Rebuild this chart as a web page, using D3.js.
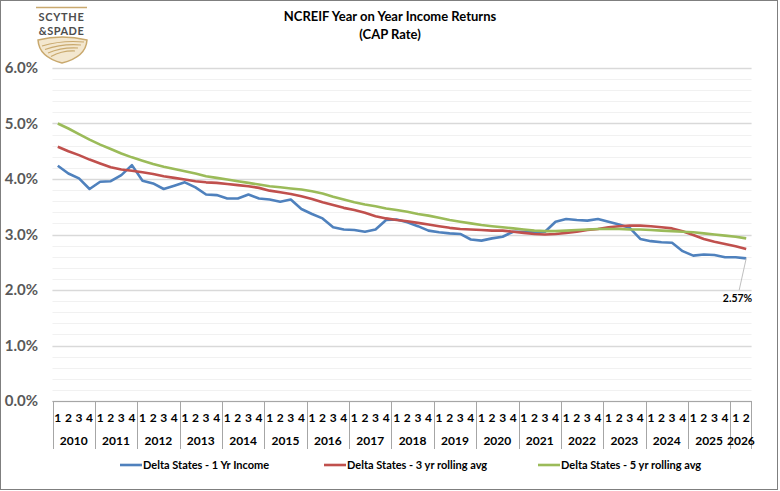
<!DOCTYPE html>
<html>
<head>
<meta charset="utf-8">
<script src="https://cdn.jsdelivr.net/npm/d3@7"></script>
<style>
  body { margin: 0; background: #fff; }
  text { font-family: Lato, "Open Sans", sans-serif; font-weight: 700; }
</style>
</head>
<body>
<script>
var W = 780, H = 491;

var years = ["2010", "2011", "2012", "2013", "2014", "2015", "2016", "2017",
    "2018", "2019", "2020", "2021", "2022", "2023", "2024", "2025", "2026"];
var quartersPerYear = [4, 4, 4, 4, 4, 4, 4, 4, 4, 4, 4, 4, 4, 4, 4, 4, 2];

var oneYr = [
    4.24, 4.10, 4.01, 3.82, 3.95, 3.96, 4.07, 4.25, 3.97, 3.92, 3.82, 3.88,
    3.94, 3.85, 3.72, 3.71, 3.65, 3.65, 3.72, 3.65, 3.63, 3.59, 3.63, 3.46,
    3.37, 3.29, 3.13, 3.09, 3.08, 3.05, 3.09, 3.26, 3.27, 3.22, 3.15, 3.07,
    3.04, 3.02, 3.01, 2.91, 2.89, 2.93, 2.96, 3.05, 3.05, 3.04, 3.05, 3.23,
    3.28, 3.26, 3.25, 3.28, 3.23, 3.18, 3.12, 2.92, 2.88, 2.86, 2.85, 2.70,
    2.62, 2.64, 2.63, 2.59, 2.59, 2.57];

var threeYr = [
    4.58, 4.50, 4.43, 4.35, 4.28, 4.21, 4.17, 4.15, 4.12, 4.09, 4.05, 4.02,
    3.99, 3.96, 3.94, 3.93, 3.91, 3.89, 3.87, 3.84, 3.79, 3.76, 3.73, 3.69,
    3.64, 3.58, 3.53, 3.48, 3.44, 3.39, 3.33, 3.29, 3.26, 3.24, 3.21, 3.18,
    3.15, 3.12, 3.10, 3.09, 3.08, 3.07, 3.07, 3.05, 3.03, 3.01, 3.00, 3.01,
    3.03, 3.05, 3.08, 3.10, 3.13, 3.15, 3.16, 3.16, 3.15, 3.13, 3.11, 3.06,
    2.99, 2.92, 2.87, 2.83, 2.79, 2.74];

var fiveYr = [
    5.00, 4.91, 4.81, 4.71, 4.62, 4.54, 4.46, 4.39, 4.33, 4.27, 4.22, 4.18,
    4.14, 4.10, 4.05, 4.02, 3.99, 3.96, 3.93, 3.90, 3.87, 3.85, 3.83, 3.81,
    3.78, 3.74, 3.68, 3.63, 3.58, 3.54, 3.51, 3.47, 3.44, 3.41, 3.37, 3.34,
    3.30, 3.26, 3.23, 3.20, 3.17, 3.15, 3.13, 3.11, 3.09, 3.07, 3.06, 3.06,
    3.07, 3.08, 3.09, 3.10, 3.10, 3.10, 3.09, 3.09, 3.08, 3.07, 3.06, 3.05,
    3.04, 3.02, 3.00, 2.98, 2.96, 2.93];

var seriesNames = ["Delta States - 1 Yr Income", "Delta States - 3 yr rolling avg",
    "Delta States - 5 yr rolling avg"];
var colors = ["#4f81bd", "#c0504d", "#9bbb59"];

// quarter categories, e.g. "2010-1"
var categories = [];
years.forEach(function(y, i) {
    for (var q = 1; q <= quartersPerYear[i]; q++) categories.push(y + "-" + q);
});

var svg = d3.select("body").append("svg")
    .attr("width", W)
    .attr("height", H);

svg.append("rect")
    .attr("x", 0.5).attr("y", 0.5)
    .attr("width", W - 3).attr("height", H - 2)
    .attr("fill", "#fff")
    .attr("stroke", "#7f7f7f");

var x = d3.scaleBand()
    .domain(categories)
    .range([52.5, 751.5]);

var y = d3.scaleLinear()
    .domain([0, 6])
    .range([401, 68]);

// gridlines
var grid = svg.append("g");
grid.selectAll(".minor")
    .data(y.ticks(30))
    .enter().append("line")
    .attr("x1", x.range()[0]).attr("x2", x.range()[1])
    .attr("y1", function(d) { return Math.round(y(d)) + 0.5; })
    .attr("y2", function(d) { return Math.round(y(d)) + 0.5; })
    .attr("stroke", "#f1f1f1");
grid.selectAll(".major")
    .data(y.ticks(6))
    .enter().append("line")
    .attr("x1", x.range()[0]).attr("x2", x.range()[1])
    .attr("y1", function(d) { return Math.round(y(d)) + 0.5; })
    .attr("y2", function(d) { return Math.round(y(d)) + 0.5; })
    .attr("stroke", "#d9d9d9")
    .attr("stroke-width", 1.3);

// y labels
svg.append("g").selectAll("text")
    .data(y.ticks(6))
    .enter().append("text")
    .attr("x", 38)
    .attr("y", function(d) { return y(d); })
    .attr("dy", "0.36em")
    .attr("text-anchor", "end")
    .attr("fill", "#595959")
    .style("font-size", "15px")
    .text(function(d) { return d3.format(".1f")(d) + "%"; });

// x axis (excel style two level)
var xa = svg.append("g");
xa.append("line")
    .attr("x1", x.range()[0]).attr("x2", x.range()[1])
    .attr("y1", 401.5).attr("y2", 401.5)
    .attr("stroke", "#a6a6a6");

xa.selectAll(".q")
    .data(categories)
    .enter().append("text")
    .attr("x", function(d) { return x(d) + x.bandwidth() / 2; })
    .attr("y", 418)
    .attr("dy", "0.35em")
    .attr("text-anchor", "middle")
    .attr("fill", "#000")
    .style("font-size", "12px")
    .text(function(d) { return d.split("-")[1]; });

var yearStart = [];
var acc = 0;
years.forEach(function(yr, i) {
    yearStart.push({year: yr, first: categories[acc], n: quartersPerYear[i]});
    acc += quartersPerYear[i];
});

xa.selectAll(".sep")
    .data(yearStart)
    .enter().append("line")
    .attr("x1", function(d) { return Math.round(x(d.first)) + 0.5; })
    .attr("x2", function(d) { return Math.round(x(d.first)) + 0.5; })
    .attr("y1", 401).attr("y2", 449)
    .attr("stroke", "#a6a6a6");
xa.append("line")
    .attr("x1", x.range()[1]).attr("x2", x.range()[1])
    .attr("y1", 401).attr("y2", 449)
    .attr("stroke", "#a6a6a6");

xa.selectAll(".yr")
    .data(yearStart)
    .enter().append("text")
    .attr("x", function(d) { return x(d.first) + x.bandwidth() * d.n / 2; })
    .attr("y", 441)
    .attr("dy", "0.35em")
    .attr("text-anchor", "middle")
    .attr("fill", "#000")
    .style("font-size", "12px")
    .text(function(d) { return d.year; });

// lines
var line = d3.line()
    .x(function(d, i) { return x(categories[i]) + x.bandwidth() / 2; })
    .y(function(d) { return y(d); });

[oneYr, threeYr, fiveYr].forEach(function(s, k) {
    svg.append("path")
        .datum(s)
        .attr("fill", "none")
        .attr("stroke", colors[k])
        .attr("stroke-width", 2.6)
        .attr("stroke-linejoin", "round")
        .attr("d", line);
});

// end label
var last = oneYr.length - 1;
var lx = x(categories[last]) + x.bandwidth() / 2;
svg.append("line")
    .attr("x1", lx).attr("y1", y(oneYr[last]))
    .attr("x2", lx - 7).attr("y2", 290)
    .attr("stroke", "#bfbfbf");
svg.append("text")
    .attr("x", lx + 6)
    .attr("y", 298)
    .attr("dy", "0.35em")
    .attr("text-anchor", "end")
    .attr("fill", "#000")
    .style("font-size", "10.5px")
    .text(d3.format(".2f")(oneYr[last]) + "%");

// title
svg.append("text")
    .attr("x", 390).attr("y", 21)
    .attr("text-anchor", "middle")
    .style("font-size", "13px")
    .text("NCREIF Year on Year Income Returns");
svg.append("text")
    .attr("x", 390).attr("y", 39)
    .attr("text-anchor", "middle")
    .style("font-size", "13px")
    .text("(CAP Rate)");

// legend
var legendX = [120, 324, 538];
var legend = svg.append("g").selectAll("g")
    .data(seriesNames)
    .enter().append("g")
    .attr("transform", function(d, i) { return "translate(" + legendX[i] + ",465)"; });
legend.append("line")
    .attr("x1", 0).attr("x2", 22)
    .attr("stroke", function(d, i) { return colors[i]; })
    .attr("stroke-width", 2.6);
legend.append("text")
    .attr("x", 23)
    .attr("dy", "0.35em")
    .style("font-size", "11px")
    .text(function(d) { return d; });

// logo
var logo = svg.append("g");
logo.append("line")
    .attr("x1", 36).attr("x2", 87).attr("y1", 7.5).attr("y2", 7.5)
    .attr("stroke", "#c9a96e").attr("stroke-width", 1.5);
logo.append("text")
    .attr("x", 61.5).attr("y", 21)
    .attr("text-anchor", "middle")
    .attr("fill", "#4d4d4d")
    .attr("letter-spacing", "0.7")
    .style("font-size", "11px")
    .text("SCYTHE");
logo.append("text")
    .attr("x", 61.5).attr("y", 34.5)
    .attr("text-anchor", "middle")
    .attr("fill", "#4d4d4d")
    .attr("letter-spacing", "0.5")
    .style("font-size", "11px")
    .text("&SPADE");
logo.append("path")
    .attr("d", "M38,40 Q62,34 87,40 Q86,57 62,63 Q39,57 38,40 Z")
    .attr("fill", "#f3e7cf")
    .attr("stroke", "#c9a96e")
    .attr("stroke-width", 1.5);
[0, 1, 2, 3].forEach(function(i) {
    logo.append("path")
        .attr("d", "M" + (42 + i * 3) + "," + (46 + i * 3.5) + " Q62," + (40 + i * 3.5) + " " + (84 - i * 3) + "," + (42 + i * 3))
        .attr("fill", "none")
        .attr("stroke", "#c9a96e")
        .attr("stroke-width", 1.2);
});
</script>
</body>
</html>
